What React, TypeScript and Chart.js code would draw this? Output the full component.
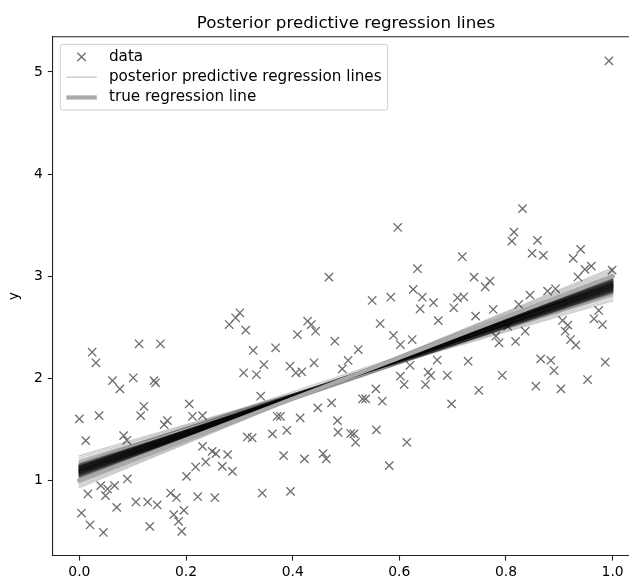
import React, { useEffect, useRef } from "react";
import { Chart, registerables } from "chart.js";

Chart.register(...registerables);

const FONT = "'DejaVu Sans', 'Liberation Sans', sans-serif";
const TITLE = "Posterior predictive regression lines";
const Y_LABEL = "y";
const LEGEND_LABELS = ["data", "posterior predictive regression lines", "true regression line"];

const X_TICKS = [0, 0.2, 0.4, 0.6, 0.8, 1.0];
const Y_TICKS = [1, 2, 3, 4, 5];

// observed data (x marks)
const dataX = [
  0.024, 0.031, 0.112, 0.152, 0.062, 0.076, 0.101, 0.140, 0.143, 0.206,
  0.121, 0.115, 0.000, 0.037, 0.165, 0.159, 0.212, 0.231, 0.281, 0.293,
  0.301, 0.312, 0.308, 0.012, 0.083, 0.089, 0.231, 0.249, 0.256, 0.237,
  0.278, 0.268, 0.287, 0.218, 0.201, 0.315, 0.090, 0.016, 0.040, 0.053,
  0.066, 0.049, 0.070, 0.106, 0.128, 0.146, 0.171, 0.182, 0.222, 0.254,
  0.004, 0.020, 0.045, 0.132, 0.177, 0.196, 0.186, 0.192, 0.468, 0.634,
  0.626, 0.643, 0.664, 0.639, 0.549, 0.584, 0.428, 0.435, 0.443, 0.409,
  0.479, 0.564, 0.589, 0.624, 0.673, 0.326, 0.368, 0.523, 0.346, 0.332,
  0.395, 0.406, 0.417, 0.440, 0.504, 0.493, 0.602, 0.620, 0.602, 0.609,
  0.654, 0.659, 0.649, 0.671, 0.340, 0.556, 0.531, 0.537, 0.568, 0.473,
  0.447, 0.371, 0.377, 0.414, 0.484, 0.324, 0.362, 0.389, 0.485, 0.509,
  0.515, 0.518, 0.557, 0.614, 0.383, 0.422, 0.457, 0.463, 0.581, 0.343,
  0.396, 0.831, 0.815, 0.811, 0.859, 0.718, 0.849, 0.870, 0.926, 0.940,
  0.740, 0.770, 0.761, 0.948, 0.960, 0.935, 0.999, 0.709, 0.721, 0.702,
  0.845, 0.878, 0.893, 0.776, 0.824, 0.743, 0.974, 0.965, 0.981, 0.906,
  0.916, 0.911, 0.921, 0.931, 0.836, 0.818, 0.781, 0.787, 0.803, 0.729,
  0.865, 0.884, 0.890, 0.986, 0.690, 0.793, 0.749, 0.856, 0.903, 0.953,
  0.698, 0.993, 0.597,
];
const dataY = [
  2.255, 2.151, 2.337, 2.337, 1.977, 1.896, 2.004, 1.977, 1.955, 1.749,
  1.725, 1.634, 1.602, 1.634, 1.585, 1.546, 1.627, 1.634, 2.526, 2.592,
  2.641, 2.471, 2.053, 1.389, 1.438, 1.392, 1.333, 1.284, 1.262, 1.180,
  1.252, 1.137, 1.088, 1.131, 1.039, 1.425, 1.014, 0.867, 0.948, 0.916,
  0.948, 0.850, 0.735, 0.788, 0.788, 0.759, 0.876, 0.830, 0.840, 0.830,
  0.680, 0.563, 0.490, 0.549, 0.664, 0.706, 0.598, 0.500, 2.990, 3.073,
  2.870, 2.794, 2.740, 2.680, 2.762, 2.794, 2.559, 2.526, 2.461, 2.428,
  2.363, 2.536, 2.419, 2.379, 2.564, 2.272, 2.298, 2.281, 2.134, 2.036,
  2.118, 2.053, 2.063, 2.151, 2.174, 2.092, 2.330, 2.127, 2.020, 1.938,
  2.059, 2.026, 1.938, 2.178, 1.824, 1.896, 1.798, 1.798, 1.775, 1.759,
  1.710, 1.627, 1.627, 1.612, 1.585, 1.416, 1.455, 1.490, 1.471, 1.458,
  1.455, 1.373, 1.494, 1.373, 1.242, 1.210, 1.262, 1.210, 1.144, 0.876,
  0.892, 3.661, 3.431, 3.343, 3.350, 3.190, 3.223, 3.203, 3.174, 3.262,
  2.990, 2.951, 2.896, 3.066, 3.098, 2.992, 3.059, 2.788, 2.798, 2.690,
  2.814, 2.853, 2.876, 2.674, 2.723, 2.608, 2.664, 2.582, 2.526, 2.566,
  2.520, 2.461, 2.379, 2.324, 2.461, 2.360, 2.412, 2.347, 2.510, 2.167,
  2.190, 2.174, 2.075, 2.157, 2.029, 2.029, 1.882, 1.922, 1.896, 1.987,
  1.749, 5.108, 3.477,
];

// posterior predictive regression lines: value at x = 0 and at x = 1
const postX = [0, 1];
const postY0 = [
  1.12, 1.08, 1.15, 1.05, 1.10, 1.13, 1.02, 1.09, 1.18, 1.07,
  1.11, 1.04, 1.14, 1.09, 0.98, 1.12, 1.06, 1.16, 1.10, 1.08,
  1.13, 1.01, 1.11, 1.07, 1.20, 1.09, 1.05, 1.14, 1.10, 1.03,
  1.12, 1.08, 1.17, 1.06, 1.11, 0.95, 1.09, 1.13, 1.07, 1.10,
  1.15, 1.04, 1.12, 1.08, 1.22, 1.10, 1.06, 1.13, 1.00, 1.11,
  1.09, 1.14, 1.05, 1.12, 1.08, 1.16, 1.03, 1.10, 1.13, 1.07,
  1.11, 0.97, 1.14, 1.09, 1.06, 1.12, 1.19, 1.08, 1.10, 1.04,
  1.13, 1.11, 1.07, 1.15, 1.02, 1.09, 1.12, 1.06, 1.24, 1.10,
  1.08, 1.14, 1.05, 1.11, 0.93, 1.13, 1.09, 1.07, 1.16, 1.10,
  1.12, 1.04, 1.11, 1.08, 1.14, 1.01, 1.10, 1.13, 1.06, 1.09,
];
const postY1 = [
  2.90, 2.93, 2.86, 2.95, 2.88, 2.91, 2.97, 2.89, 2.84, 2.92,
  2.87, 2.96, 2.90, 2.85, 3.02, 2.91, 2.94, 2.83, 2.89, 2.93,
  2.88, 2.99, 2.92, 2.86, 2.80, 2.90, 2.95, 2.87, 2.92, 2.98,
  2.89, 2.85, 2.91, 2.94, 2.88, 3.06, 2.90, 2.86, 2.93, 2.89,
  2.84, 2.97, 2.91, 2.88, 2.78, 2.92, 2.95, 2.87, 3.00, 2.90,
  2.88, 2.85, 2.96, 2.92, 2.89, 2.82, 2.98, 2.91, 2.86, 2.94,
  2.90, 3.04, 2.87, 2.93, 2.95, 2.89, 2.81, 2.92, 2.88, 2.97,
  2.86, 2.90, 2.94, 2.83, 3.00, 2.91, 2.88, 2.95, 2.76, 2.89,
  2.93, 2.86, 2.96, 2.90, 3.08, 2.87, 2.92, 2.94, 2.84, 2.91,
  2.89, 2.97, 2.90, 2.93, 2.85, 3.01, 2.88, 2.87, 2.95, 2.92,
];

// true regression line
const trueX = [0, 1];
const trueY = [1, 3];

const DATA_COLOR = "#6e6e6e";
const POST_COLOR = "rgba(0,0,0,0.2)";
const TRUE_COLOR = "#a8a8a8";
const AXIS_COLOR = "#222222";
const FS = 13.9;
const LFS = 15.2;

function drawCross(ctx: CanvasRenderingContext2D, x: number, y: number, h: number) {
  ctx.beginPath();
  ctx.moveTo(x - h, y - h);
  ctx.lineTo(x + h, y + h);
  ctx.moveTo(x - h, y + h);
  ctx.lineTo(x + h, y - h);
  ctx.stroke();
}

const decorPlugin = {
  id: "decor",
  afterDraw(chart: any) {
    const ctx: CanvasRenderingContext2D = chart.ctx;
    const a = chart.chartArea;
    ctx.save();
    // top and right spines
    ctx.strokeStyle = AXIS_COLOR;
    ctx.lineWidth = 1.1;
    ctx.beginPath();
    ctx.moveTo(a.left, a.top);
    ctx.lineTo(a.right, a.top);
    ctx.lineTo(a.right, a.bottom);
    ctx.stroke();

    // title
    ctx.fillStyle = "#000";
    ctx.font = `16.7px ${FONT}`;
    ctx.textAlign = "center";
    ctx.textBaseline = "alphabetic";
    ctx.fillText(TITLE, (a.left + a.right) / 2, a.top - 8.3);

    // y label
    ctx.save();
    ctx.translate(14, (a.top + a.bottom) / 2);
    ctx.rotate(-Math.PI / 2);
    ctx.font = `${FS}px ${FONT}`;
    ctx.textAlign = "center";
    ctx.textBaseline = "middle";
    ctx.fillText(Y_LABEL, 0, 0);
    ctx.restore();

    // legend
    ctx.font = `${LFS}px ${FONT}`;
    let tw = 0;
    LEGEND_LABELS.forEach((l) => (tw = Math.max(tw, ctx.measureText(l).width)));
    const pad = 0.4 * LFS;
    const handleLen = 2.0 * LFS;
    const handlePad = 0.8 * LFS;
    const pitch = 20.3;
    const half = 6.5;
    const bx = a.left + 0.5 * LFS;
    const by = a.top + 0.5 * LFS;
    const bw = pad + handleLen + handlePad + tw + pad;
    const firstRow = by + pad + half;
    const bh = pad + half + pitch * 2 + half + pad;
    const r = 2.8;
    ctx.beginPath();
    ctx.moveTo(bx + r, by);
    ctx.lineTo(bx + bw - r, by);
    ctx.arcTo(bx + bw, by, bx + bw, by + r, r);
    ctx.lineTo(bx + bw, by + bh - r);
    ctx.arcTo(bx + bw, by + bh, bx + bw - r, by + bh, r);
    ctx.lineTo(bx + r, by + bh);
    ctx.arcTo(bx, by + bh, bx, by + bh - r, r);
    ctx.lineTo(bx, by + r);
    ctx.arcTo(bx, by, bx + r, by, r);
    ctx.closePath();
    ctx.fillStyle = "rgba(255,255,255,0.8)";
    ctx.fill();
    ctx.strokeStyle = "#cccccc";
    ctx.lineWidth = 1;
    ctx.stroke();

    const hx0 = bx + pad;
    const hx1 = hx0 + handleLen;
    const tx = hx1 + handlePad;
    LEGEND_LABELS.forEach((label, i) => {
      const cy = firstRow + i * pitch;
      if (i === 0) {
        ctx.strokeStyle = DATA_COLOR;
        ctx.lineWidth = 1.3;
        drawCross(ctx, (hx0 + hx1) / 2, cy, 4.17);
      } else {
        ctx.strokeStyle = i === 1 ? POST_COLOR : TRUE_COLOR;
        ctx.lineWidth = i === 1 ? 1.5 : 4.17;
        ctx.beginPath();
        ctx.moveTo(hx0, cy);
        ctx.lineTo(hx1, cy);
        ctx.stroke();
      }
      ctx.fillStyle = "#000";
      ctx.textAlign = "left";
      ctx.textBaseline = "middle";
      ctx.fillText(label, tx, cy);
    });
    ctx.restore();
  },
};

export default function App() {
  const ref = useRef<HTMLCanvasElement>(null);

  useEffect(() => {
    const canvas = ref.current;
    if (!canvas) return;
    const datasets: any[] = [];
    datasets.push({
      label: LEGEND_LABELS[0],
      data: dataX.map((x, i) => ({ x, y: dataY[i] })),
      showLine: false,
      pointStyle: "crossRot",
      pointRadius: 5.9,
      pointBorderWidth: 1.3,
      pointBorderColor: DATA_COLOR,
      pointBackgroundColor: "transparent",
      borderColor: DATA_COLOR,
      backgroundColor: "transparent",
      order: 3,
    });
    postY0.forEach((y0, i) => {
      datasets.push({
        label: LEGEND_LABELS[1],
        data: [
          { x: postX[0], y: y0 },
          { x: postX[1], y: postY1[i] },
        ],
        showLine: true,
        borderColor: POST_COLOR,
        borderWidth: 1.5,
        borderCapStyle: "square",
        pointRadius: 0,
        order: 2,
      });
    });
    datasets.push({
      label: LEGEND_LABELS[2],
      data: trueX.map((x, i) => ({ x, y: trueY[i] })),
      showLine: true,
      borderColor: TRUE_COLOR,
      borderWidth: 4.17,
      borderCapStyle: "square",
      pointRadius: 0,
      order: 1,
    });

    const tickFont = { family: FONT, size: FS };
    const chart = new Chart(canvas, {
      type: "scatter",
      data: { datasets },
      options: {
        animation: false,
        responsive: false,
        devicePixelRatio: 1,
        events: [],
        layout: { padding: { top: 36.7, right: 10.7, left: 0, bottom: 0 } },
        plugins: {
          legend: { display: false },
          title: { display: false },
          tooltip: { enabled: false },
        },
        scales: {
          x: {
            type: "linear",
            min: -0.05,
            max: 1.05,
            afterBuildTicks: (s: any) => {
              s.ticks = X_TICKS.map((v) => ({ value: v }));
            },
            afterFit: (s: any) => {
              s.height = 23.3;
            },
            grid: {
              display: true,
              drawOnChartArea: false,
              drawTicks: true,
              tickLength: 4.9,
              tickColor: AXIS_COLOR,
              tickWidth: 1.1,
            },
            border: { display: true, color: AXIS_COLOR, width: 1.1 },
            ticks: {
              padding: 3.5,
              color: "#000",
              font: tickFont,
              maxRotation: 0,
              autoSkip: false,
              callback: (v: any) => Number(v).toFixed(1),
            },
          },
          y: {
            type: "linear",
            min: 0.262,
            max: 5.345,
            afterBuildTicks: (s: any) => {
              s.ticks = Y_TICKS.map((v) => ({ value: v }));
            },
            afterFit: (s: any) => {
              s.width = 52.7;
            },
            grid: {
              display: true,
              drawOnChartArea: false,
              drawTicks: true,
              tickLength: 4.9,
              tickColor: AXIS_COLOR,
              tickWidth: 1.1,
            },
            border: { display: true, color: AXIS_COLOR, width: 1.1 },
            ticks: {
              padding: 4.9,
              color: "#000",
              font: tickFont,
              autoSkip: false,
              callback: (v: any) => String(v),
            },
          },
        },
      } as any,
      plugins: [decorPlugin],
    });
    return () => chart.destroy();
  }, []);

  return (
    <div
      style={{
        position: "fixed",
        left: 0,
        top: 0,
        width: 629,
        height: 579,
        overflow: "hidden",
        background: "#fff",
      }}
    >
      <canvas ref={ref} width={650} height={579} style={{ display: "block", width: 650, height: 579 }} />
    </div>
  );
}
